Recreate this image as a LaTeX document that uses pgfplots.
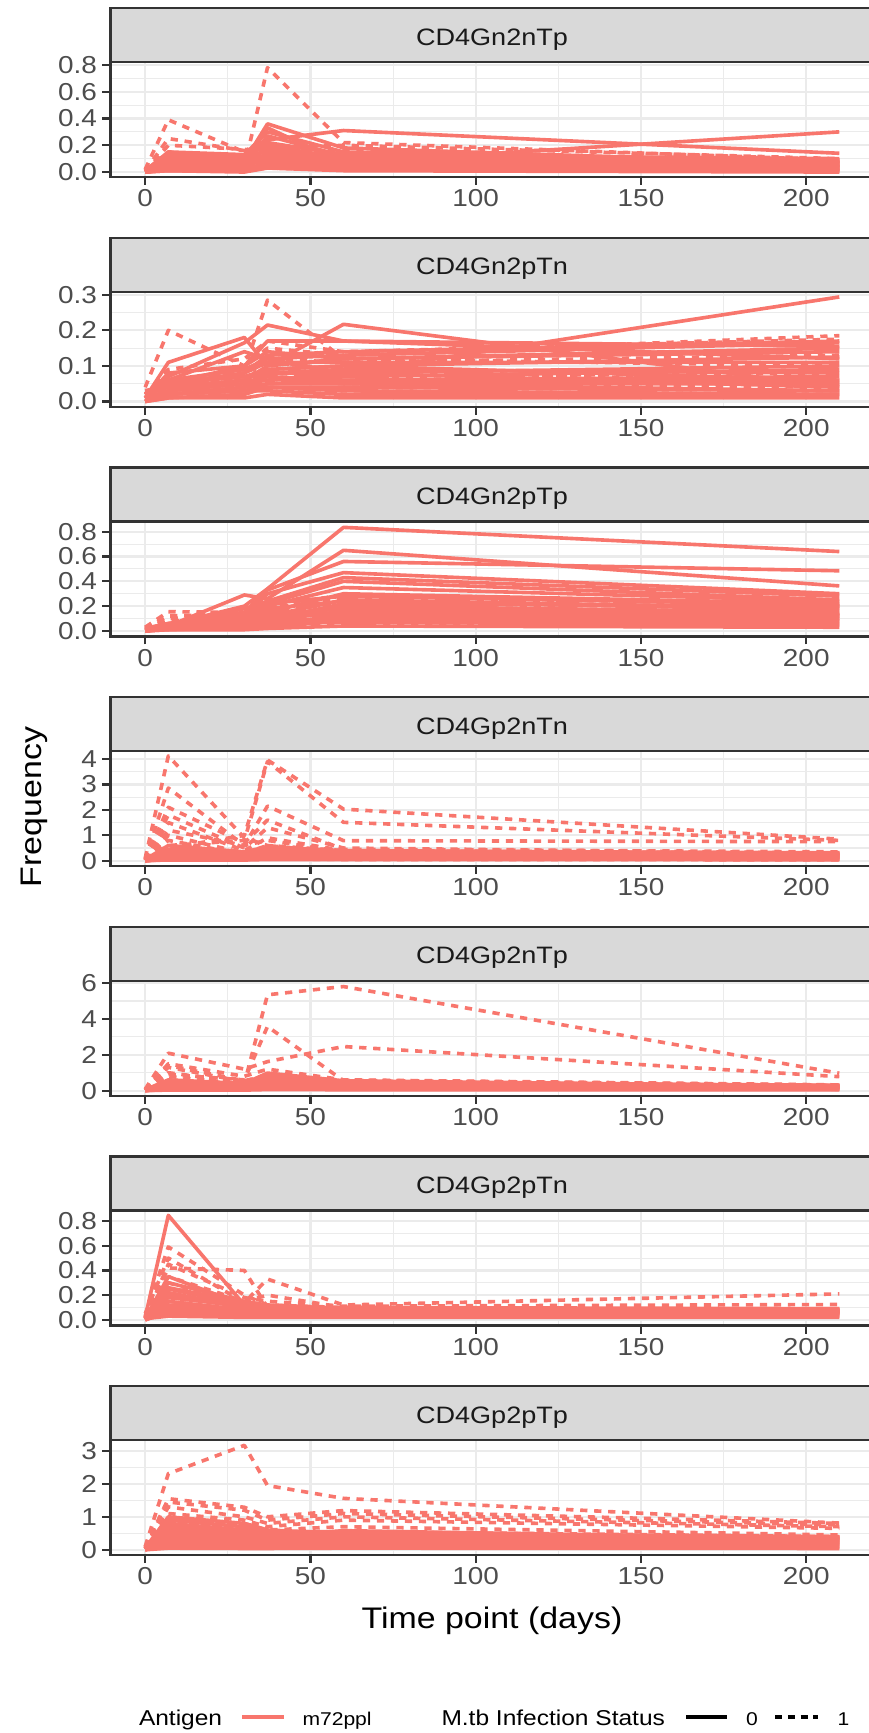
\documentclass[border=0pt]{standalone}
\usepackage{fontspec}
\setmainfont{Liberation Sans}[FakeStretch=1.14]
\usepackage{pgfplots}
\usepackage{pgfplotstable}
\pgfplotsset{compat=1.18}

\definecolor{salmon}{HTML}{F8766D}
\definecolor{gray10}{HTML}{1A1A1A}
\definecolor{gray20}{HTML}{333333}
\definecolor{gray30}{HTML}{4D4D4D}
\definecolor{gray85}{HTML}{D9D9D9}
\definecolor{gray92}{HTML}{EBEBEB}

% rows = time points (0,7,30,37,60,210), columns = subjects
% s = M.tb status 0 (solid), d = status 1 (dashed)
\pgfplotstableread[header=false]{
0   0.02 0.01 0.02 0.01 0.00 0.01 0.00 0.01 0.00 0.00 0.01 0.00 0.02 0.00 0.01 0.02 0.00 0.01 0.02 0.01 0.00 0.01
7   0.10 0.14 0.08 0.15 0.06 0.04 0.03 0.05 0.02 0.01 0.03 0.02 0.09 0.01 0.07 0.05 0.04 0.11 0.08 0.06 0.02 0.13
30  0.08 0.12 0.06 0.13 0.05 0.03 0.02 0.04 0.01 0.01 0.02 0.03 0.07 0.00 0.06 0.05 0.04 0.09 0.08 0.10 0.03 0.11
37  0.36 0.24 0.33 0.30 0.27 0.20 0.15 0.11 0.08 0.05 0.06 0.04 0.12 0.03 0.18 0.14 0.10 0.22 0.09 0.07 0.05 0.16
60  0.18 0.31 0.07 0.15 0.12 0.10 0.08 0.06 0.05 0.03 0.04 0.02 0.09 0.01 0.11 0.07 0.04 0.13 0.06 0.05 0.02 0.10
210 0.06 0.14 0.30 0.08 0.05 0.04 0.03 0.02 0.02 0.01 0.05 0.01 0.07 0.00 0.09 0.06 0.03 0.10 0.04 0.07 0.02 0.08
}\pAs
\pgfplotstableread[header=false]{
0   0.01 0.02 0.01 0.00 0.01 0.00 0.00 0.01 0.00 0.02
7   0.05 0.39 0.25 0.20 0.15 0.10 0.06 0.03 0.02 0.12
30  0.04 0.15 0.16 0.17 0.10 0.08 0.05 0.02 0.02 0.09
37  0.78 0.20 0.18 0.14 0.12 0.16 0.09 0.05 0.03 0.07
60  0.22 0.13 0.20 0.16 0.11 0.09 0.06 0.03 0.02 0.14
210 0.09 0.08 0.10 0.07 0.05 0.04 0.03 0.02 0.01 0.06
}\pAd

\pgfplotstableread[header=false]{
0   0.02 0.01 0.02 0.01 0.03 0.01 0.00 0.02 0.01 0.00 0.01 0.00 0.01 0.00 0.02 0.01 0.02 0.00 0.01 0.03 0.02 0.01 0.00
7   0.06 0.11 0.07 0.05 0.04 0.06 0.03 0.05 0.02 0.03 0.02 0.01 0.02 0.01 0.04 0.03 0.05 0.02 0.08 0.04 0.06 0.03 0.02
30  0.14 0.18 0.165 0.10 0.08 0.09 0.06 0.07 0.04 0.05 0.03 0.02 0.03 0.01 0.06 0.05 0.08 0.04 0.10 0.06 0.07 0.05 0.03
37  0.12 0.10 0.215 0.17 0.13 0.12 0.10 0.09 0.08 0.07 0.05 0.04 0.03 0.02 0.06 0.06 0.11 0.05 0.14 0.09 0.08 0.07 0.04
60  0.08 0.217 0.17 0.17 0.14 0.13 0.12 0.10 0.09 0.06 0.05 0.04 0.02 0.01 0.08 0.07 0.11 0.06 0.12 0.10 0.08 0.05 0.03
210 0.294 0.04 0.12 0.155 0.17 0.165 0.15 0.125 0.08 0.06 0.05 0.03 0.02 0.01 0.10 0.09 0.11 0.07 0.14 0.06 0.04 0.03 0.02
}\pBs
\pgfplotstableread[header=false]{
0   0.03 0.04 0.02 0.01 0.01 0.00 0.00 0.01
7   0.04 0.20 0.09 0.06 0.05 0.03 0.02 0.04
30  0.09 0.10 0.12 0.08 0.06 0.04 0.03 0.05
37  0.285 0.15 0.17 0.11 0.08 0.06 0.04 0.12
60  0.12 0.13 0.14 0.09 0.07 0.05 0.03 0.11
210 0.10 0.185 0.175 0.05 0.08 0.04 0.02 0.13
}\pBd

\pgfplotstableread[header=false]{
0   0.02 0.01 0.02 0.01 0.00 0.01 0.02 0.00 0.01 0.00 0.01 0.00 0.01 0.00 0.02 0.01 0.02 0.00 0.01 0.02 0.01 0.00 0.01
7   0.05 0.04 0.06 0.03 0.05 0.04 0.03 0.02 0.03 0.02 0.02 0.01 0.02 0.01 0.03 0.03 0.05 0.02 0.04 0.06 0.03 0.02 0.04
30  0.20 0.29 0.15 0.12 0.18 0.10 0.09 0.08 0.07 0.05 0.04 0.03 0.02 0.01 0.06 0.08 0.12 0.05 0.10 0.14 0.07 0.04 0.09
37  0.34 0.26 0.33 0.30 0.24 0.22 0.20 0.15 0.12 0.10 0.08 0.06 0.04 0.02 0.09 0.13 0.18 0.08 0.16 0.22 0.11 0.06 0.14
60  0.835 0.65 0.56 0.47 0.43 0.40 0.35 0.30 0.25 0.20 0.16 0.12 0.08 0.04 0.22 0.18 0.24 0.10 0.14 0.28 0.15 0.07 0.12
210 0.64 0.363 0.485 0.30 0.28 0.25 0.24 0.22 0.18 0.15 0.12 0.10 0.06 0.03 0.20 0.14 0.17 0.08 0.12 0.21 0.13 0.05 0.09
}\pCs
\pgfplotstableread[header=false]{
0   0.03 0.02 0.01 0.01 0.00 0.00 0.01
7   0.155 0.12 0.10 0.08 0.05 0.03 0.02
30  0.15 0.14 0.12 0.10 0.07 0.04 0.03
37  0.20 0.18 0.16 0.14 0.10 0.06 0.04
60  0.29 0.26 0.22 0.18 0.12 0.08 0.05
210 0.20 0.23 0.19 0.16 0.11 0.07 0.04
}\pCd

\pgfplotstableread[header=false]{
0   0.05 0.03 0.02 0.04 0.01 0.02 0.00 0.01 0.03 0.01 0.02 0.01 0.03 0.00 0.02 0.01
7   0.60 0.45 0.30 0.20 0.15 0.10 0.05 0.03 0.25 0.08 0.35 0.18 0.12 0.06 0.40 0.22
30  0.35 0.30 0.25 0.20 0.15 0.10 0.06 0.03 0.18 0.12 0.28 0.16 0.14 0.05 0.25 0.20
37  0.55 0.40 0.35 0.30 0.22 0.15 0.08 0.05 0.45 0.18 0.30 0.25 0.20 0.10 0.28 0.35
60  0.40 0.35 0.30 0.25 0.20 0.15 0.08 0.05 0.28 0.12 0.32 0.22 0.18 0.10 0.26 0.30
210 0.30 0.25 0.28 0.20 0.18 0.12 0.07 0.04 0.22 0.10 0.26 0.16 0.14 0.06 0.24 0.32
}\pDs
\pgfplotstableread[header=false]{
0   0.10 0.05 0.08 0.05 0.04 0.03 0.02 0.03 0.02 0.01 0.01 0.00 0.01 0.00
7   4.12 0.50 0.60 2.86 2.10 1.80 1.50 1.20 1.00 0.80 0.60 0.40 0.25 0.10
30  0.90 1.00 0.80 0.60 0.70 0.50 0.40 0.60 0.30 0.25 0.20 0.15 0.10 0.05
37  0.60 3.96 3.90 2.15 1.60 1.30 0.90 0.80 0.60 0.50 0.40 0.25 0.15 0.08
60  0.40 2.03 1.51 0.79 0.45 0.50 0.40 0.35 0.30 0.25 0.20 0.15 0.10 0.05
210 0.30 0.85 0.80 0.75 0.35 0.30 0.28 0.25 0.22 0.20 0.15 0.10 0.08 0.04
}\pDd

\pgfplotstableread[header=false]{
0   0.05 0.03 0.02 0.04 0.01 0.02 0.00 0.01 0.02 0.01 0.03 0.00 0.02
7   0.60 0.50 0.40 0.30 0.20 0.12 0.06 0.03 0.35 0.18 0.45 0.08 0.25
30  0.40 0.35 0.30 0.25 0.20 0.12 0.06 0.03 0.30 0.20 0.35 0.10 0.22
37  0.98 0.80 0.60 0.45 0.35 0.25 0.12 0.06 0.50 0.30 0.70 0.15 0.40
60  0.55 0.50 0.40 0.35 0.30 0.20 0.10 0.05 0.45 0.25 0.35 0.15 0.40
210 0.25 0.22 0.20 0.18 0.15 0.12 0.08 0.04 0.30 0.18 0.22 0.10 0.28
}\pEs
\pgfplotstableread[header=false]{
0   0.02 0.05 0.08 0.05 0.04 0.03 0.02 0.01 0.01 0.00 0.02
7   0.50 0.90 2.09 1.50 1.30 1.00 0.80 0.60 0.40 0.20 1.40
30  0.40 0.60 1.20 0.80 0.50 0.45 0.35 0.30 0.20 0.10 0.55
37  5.35 3.58 1.62 1.20 0.90 0.70 0.55 0.45 0.30 0.15 0.85
60  5.81 0.55 2.46 0.60 0.50 0.45 0.40 0.35 0.25 0.12 0.58
210 0.97 0.30 0.78 0.32 0.28 0.25 0.22 0.20 0.15 0.08 0.30
}\pEd

\pgfplotstableread[header=false]{
0   0.02 0.01 0.02 0.01 0.00 0.01 0.00 0.01 0.02 0.01 0.02 0.00 0.01 0.02 0.01
7   0.846 0.30 0.25 0.20 0.15 0.10 0.06 0.03 0.18 0.22 0.12 0.08 0.35 0.26 0.05
30  0.12 0.15 0.12 0.10 0.08 0.06 0.04 0.02 0.11 0.10 0.09 0.07 0.12 0.14 0.05
37  0.10 0.12 0.10 0.09 0.07 0.06 0.04 0.02 0.08 0.09 0.08 0.06 0.10 0.11 0.05
60  0.08 0.09 0.08 0.07 0.06 0.05 0.03 0.02 0.09 0.10 0.07 0.06 0.08 0.09 0.04
210 0.07 0.08 0.09 0.07 0.06 0.05 0.04 0.02 0.08 0.09 0.07 0.05 0.08 0.06 0.03
}\pFs
\pgfplotstableread[header=false]{
0   0.03 0.02 0.05 0.01 0.02 0.01 0.00 0.01 0.00
7   0.59 0.42 0.50 0.45 0.35 0.30 0.22 0.15 0.08
30  0.20 0.40 0.14 0.18 0.15 0.12 0.10 0.08 0.05
37  0.12 0.10 0.33 0.15 0.20 0.12 0.10 0.08 0.05
60  0.10 0.08 0.12 0.11 0.10 0.09 0.08 0.06 0.04
210 0.07 0.06 0.21 0.124 0.08 0.07 0.06 0.05 0.03
}\pFd

\pgfplotstableread[header=false]{
0   0.05 0.03 0.02 0.04 0.01 0.02 0.00 0.01 0.00 0.03 0.02 0.01 0.03 0.00 0.02 0.01
7   1.00 0.90 0.75 0.60 0.45 0.30 0.20 0.10 0.05 0.50 0.80 0.40 0.65 0.15 0.35 0.25
30  0.80 0.70 0.60 0.50 0.40 0.30 0.20 0.10 0.04 0.45 0.60 0.35 0.55 0.15 0.45 0.25
37  0.60 0.55 0.50 0.45 0.35 0.25 0.15 0.08 0.04 0.40 0.45 0.30 0.40 0.12 0.50 0.20
60  0.50 0.55 0.45 0.40 0.35 0.30 0.20 0.10 0.05 0.58 0.48 0.32 0.38 0.15 0.45 0.25
210 0.40 0.35 0.30 0.28 0.25 0.20 0.15 0.08 0.04 0.33 0.38 0.22 0.30 0.10 0.36 0.18
}\pGs
\pgfplotstableread[header=false]{
0   0.10 0.08 0.05 0.05 0.04 0.03 0.02 0.01 0.00
7   2.31 1.55 1.45 1.30 1.10 0.90 0.70 0.50 0.30
30  3.17 1.29 1.20 1.00 0.90 0.80 0.60 0.40 0.20
37  1.95 1.00 0.90 0.80 0.70 0.60 0.50 0.30 0.20
60  1.56 1.19 1.10 1.00 0.90 0.70 0.55 0.40 0.25
210 0.81 0.80 0.75 0.70 0.65 0.45 0.40 0.30 0.15
}\pGd

\tikzset{
  sol/.style={color=salmon, line width=1.45pt, line join=round, mark=none},
  dsh/.style={sol, dash pattern=on 2.9pt off 2.7pt},
  strip/.style={fill=gray85, draw=gray20, line width=0.9pt},
}

\pgfplotsset{panel/.style={
  scale only axis, width=305.4pt, height=46pt, anchor=north west,
  xmin=-10.5, xmax=220.5,
  xtick={0,50,100,150,200}, xticklabels={0,50,100,150,200},
  minor x tick num=1, minor y tick num=1,
  grid=both,
  major grid style={color=gray92, line width=0.9pt},
  minor grid style={color=gray92, line width=0.45pt},
  axis line style={color=gray20, line width=0.9pt},
  xtick pos=left, ytick pos=left,
  tick align=outside,
  major tick length=3.2pt, minor tick length=0pt,
  tick style={color=gray20, line width=0.9pt},
  tick label style={font=\fontsize{9.8}{10}\selectfont, color=gray30, inner sep=0pt},
  xticklabel style={yshift=-1.6pt},
  yticklabel style={xshift=-2pt},
}}

% one line per column of a table
\newcommand{\drawset}[2]{%
  \pgfplotstablegetcolsof{#1}%
  \pgfmathtruncatemacro{\lastcol}{\pgfplotsretval-1}%
  \pgfplotsinvokeforeach{1,...,\lastcol}{\addplot[#2] table[x index=0, y index=##1]{#1};}%
}

% #1 top (pt), #2 ymin, #3 ymax, #4 ticks, #5 tick labels, #6 solid, #7 dashed, #8 strip
\newcommand{\panel}[8]{%
  \begin{axis}[panel, at={(44.2pt,{-#1pt})}, ymin=#2, ymax=#3, ytick={#4}, yticklabels={#5}]
    \drawset{#6}{sol}
    \drawset{#7}{dsh}
  \end{axis}
  \draw[strip] (44.2pt,{(21.6-#1)*1pt}) rectangle (352pt,{-#1*1pt});
  \node[anchor=base, inner sep=0pt, text=gray10, font=\fontsize{9.5}{10}\selectfont]
    at (196.8pt,{(6.8-#1)*1pt}) {#8};
}

\begin{document}
\begin{tikzpicture}
\panel{24.8}{-0.037}{0.822}{0,0.2,0.4,0.6,0.8}{0.0,0.2,0.4,0.6,0.8}{\pAs}{\pAd}{CD4Gn2nTp}
\panel{116.68}{-0.0147}{0.3087}{0,0.1,0.2,0.3}{0.0,0.1,0.2,0.3}{\pBs}{\pBd}{CD4Gn2pTn}
\panel{208.56}{-0.044}{0.883}{0,0.2,0.4,0.6,0.8}{0.0,0.2,0.4,0.6,0.8}{\pCs}{\pCd}{CD4Gn2pTp}
\panel{300.44}{-0.21}{4.31}{0,1,2,3,4}{0,1,2,3,4}{\pDs}{\pDd}{CD4Gp2nTn}
\panel{392.32}{-0.29}{6.13}{0,2,4,6}{0,2,4,6}{\pEs}{\pEd}{CD4Gp2nTp}
\panel{484.2}{-0.046}{0.885}{0,0.2,0.4,0.6,0.8}{0.0,0.2,0.4,0.6,0.8}{\pFs}{\pFd}{CD4Gp2pTn}
\panel{576.08}{-0.165}{3.325}{0,1,2,3}{0,1,2,3}{\pGs}{\pGd}{CD4Gp2pTp}

% axis titles
\node[anchor=base, inner sep=0pt, font=\fontsize{11.9}{12}\selectfont] at (196.8pt,-651.4pt) {Time point (days)};
\node[anchor=base, rotate=90, inner sep=0pt, font=\fontsize{11.9}{12}\selectfont] at (16.4pt,-322.8pt) {Frequency};

% legend
\node[anchor=base west, inner sep=0pt, font=\fontsize{8.6}{9}\selectfont] at (55.4pt,-690pt) {Antigen};
\draw[salmon, line width=1.5pt] (96.8pt,-686.7pt) -- (113.6pt,-686.7pt);
\node[anchor=base west, inner sep=0pt, font=\fontsize{7.4}{8}\selectfont] at (120.8pt,-690pt) {m72ppl};
\node[anchor=base west, inner sep=0pt, font=\fontsize{8.6}{9}\selectfont] at (176.4pt,-690pt) {M.tb Infection Status};
\draw[black, line width=1.5pt] (274.4pt,-686.7pt) -- (290.8pt,-686.7pt);
\node[anchor=base west, inner sep=0pt, font=\fontsize{7.4}{8}\selectfont] at (298.2pt,-690pt) {0};
\draw[black, line width=1.5pt, dash pattern=on 2.9pt off 2.2pt] (310pt,-686.7pt) -- (327pt,-686.7pt);
\node[anchor=base west, inner sep=0pt, font=\fontsize{7.4}{8}\selectfont] at (334.8pt,-690pt) {1};

\pgfresetboundingbox
\useasboundingbox (0pt,0pt) rectangle (347.6pt,-693.2pt);
\end{tikzpicture}
\end{document}
